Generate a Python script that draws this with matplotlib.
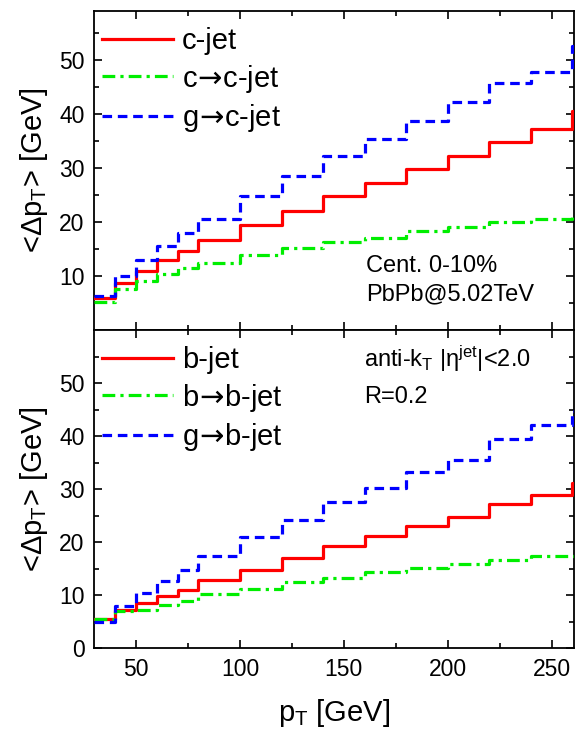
import matplotlib.pyplot as plt
import numpy as np

plt.rcParams['font.family'] = ['Liberation Sans', 'DejaVu Sans']
plt.rcParams['mathtext.fontset'] = 'custom'
plt.rcParams['mathtext.rm'] = 'Liberation Sans'
plt.rcParams['mathtext.it'] = 'Liberation Sans:italic'
plt.rcParams['mathtext.sf'] = 'DejaVu Sans'

# pT bin edges (last bin runs past the axis limit)
edges = [30, 40, 50, 60, 70, 80, 100, 120, 140, 160, 180, 200, 220, 240, 260, 280]

# charm jets, <Delta pT> per bin
c_jet = [5.9, 8.7, 10.9, 12.9, 14.6, 16.6, 19.5, 22.1, 24.7, 27.2, 29.7, 32.2, 34.8, 37.1, 40.5]
c_to_c = [5.2, 7.6, 9.0, 10.3, 11.4, 12.4, 13.8, 15.2, 16.3, 17.1, 18.3, 19.1, 20.0, 20.6, 21.2]
g_to_c = [6.2, 10.0, 13.0, 15.5, 17.9, 20.6, 24.7, 28.5, 32.2, 35.4, 38.7, 42.2, 45.6, 47.7, 52.6]

# bottom jets
b_jet = [5.4, 7.2, 8.5, 9.8, 11.0, 12.8, 14.8, 17.0, 19.2, 21.1, 23.0, 24.7, 27.2, 28.9, 31.1]
b_to_b = [5.5, 6.9, 7.2, 8.2, 8.9, 10.2, 11.2, 12.5, 13.2, 14.3, 15.1, 15.9, 16.7, 17.3, 17.4]
g_to_b = [5.0, 7.9, 10.4, 12.7, 14.8, 17.3, 20.9, 24.1, 27.5, 30.2, 33.2, 35.5, 39.5, 42.1, 44.7]

# arrow without the relation spacing mathtext puts around it
arrow = r'$\!\mathsf{\rightarrow}\!$'

fig = plt.figure(figsize=(5.76, 7.29), dpi=100)
ax1 = fig.add_axes([0.164, 0.5473, 0.832, 0.4376])
ax2 = fig.add_axes([0.164, 0.1111, 0.832, 0.4362], sharex=ax1)


def draw(ax, curves, labels):
    styles = [
        dict(color='#ff0000', linestyle='-'),
        dict(color='#00ee00', linestyle=(0, (4, 1.6, 1, 1.6))),
        dict(color='#0000ff', linestyle=(0, (3, 1.8))),
    ]
    for vals, lab, st in zip(curves, labels, styles):
        ax.step(edges, np.append(vals, vals[-1]), where='post', lw=2.3,
                label=lab, zorder=3, **st)
    ax.legend(loc='upper left', bbox_to_anchor=(0, 0.972), frameon=False,
              fontsize=21, handlelength=2.45, borderaxespad=0.1,
              labelspacing=0.25, handletextpad=0.3, borderpad=0.15)
    ax.set_ylabel(r'<Δp$_\mathregular{T}$> [GeV]', fontsize=21)
    ax.set_yticks([0, 10, 20, 30, 40, 50])
    ax.set_yticks(np.arange(5, 60, 10), minor=True)
    ax.tick_params(which='both', direction='in', top=True, right=True,
                   labelsize=16.5, width=1.2, pad=7)
    ax.tick_params(which='major', length=6)
    ax.tick_params(which='minor', length=3.5)
    for sp in ax.spines.values():
        sp.set_linewidth(1.3)


draw(ax1, [c_jet, c_to_c, g_to_c], ['c-jet', 'c' + arrow + 'c-jet', 'g' + arrow + 'c-jet'])
draw(ax2, [b_jet, b_to_b, g_to_b], ['b-jet', 'b' + arrow + 'b-jet', 'g' + arrow + 'b-jet'])

ax1.set_xlim(30, 260.6)
ax1.set_ylim(0, 59)
ax2.set_ylim(0, 60)
ax1.set_yticks([10, 20, 30, 40, 50])
ax1.tick_params(labelbottom=False)
ax2.set_xticks([50, 100, 150, 200, 250])
ax2.set_xticks(np.arange(75, 260, 50), minor=True)
ax2.set_xlabel(r'p$_\mathregular{T}$ [GeV]', fontsize=21, labelpad=12)
ax1.yaxis.set_label_coords(-0.092, 0.5)
ax2.yaxis.set_label_coords(-0.092, 0.5)

ax1.text(0.566, 0.183, 'Cent. 0-10%', transform=ax1.transAxes, fontsize=17,
         va='baseline')
ax1.text(0.566, 0.094, 'PbPb@5.02TeV', transform=ax1.transAxes, fontsize=17,
         va='baseline')
ax2.text(0.562, 0.883, r'anti-k$_\mathregular{T}$ |η$^\mathregular{jet}$|<2.0',
         transform=ax2.transAxes, fontsize=17, va='baseline')
ax2.text(0.562, 0.771, 'R=0.2', transform=ax2.transAxes, fontsize=17,
         va='baseline')

fig.savefig('out.png', dpi=100)
